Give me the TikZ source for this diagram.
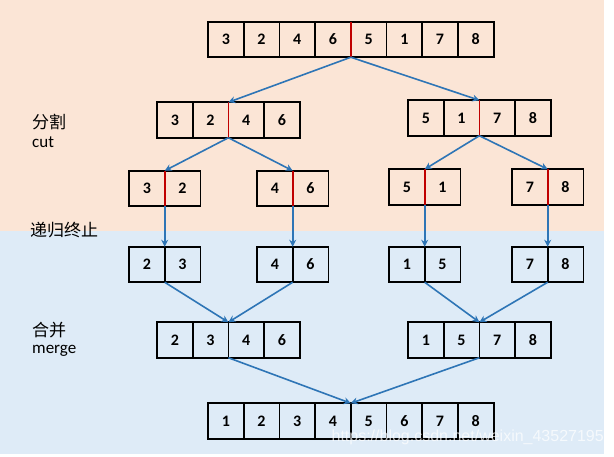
\documentclass[tikz,border=0pt]{standalone}
\usepackage{fontspec}
\setmainfont{Carlito}
\newfontfamily\cjk{Noto Sans CJK SC}
\newfontfamily\wmfont{Liberation Sans}
\usetikzlibrary{arrows.meta}

\definecolor{cutbg}{HTML}{FBE5D6}
\definecolor{mergebg}{HTML}{DEEBF7}
\definecolor{linkblue}{HTML}{2E75B6}
\definecolor{splitred}{HTML}{C00000}

\tikzset{
    cell/.style={draw, line width=1.8pt, minimum width=35.7pt, minimum height=35.5pt,
        inner sep=0pt, outer sep=0pt, anchor=west,
        font=\bfseries\fontsize{16}{16}\selectfont},
    link/.style={linkblue, line width=1.6pt, -{Stealth[length=7pt,width=7pt]}},
    splitline/.style={splitred, line width=1.8pt},
    steplabel/.style={anchor=west, inner sep=0pt, font=\fontsize{17}{17}\selectfont},
    watermark/.style={anchor=east, inner sep=0pt, white, opacity=0.7,
        font=\wmfont\fontsize{16}{16}\selectfont}
}

% one row of cells: name, left x, centre y, values
\newcommand{\cellrow}[4]{%
    \foreach \v [count=\i] in {#4}
        \node[cell] (#1-\i) at ({#2+(\i-1)*35.7}, #3) {\v};
}

\begin{document}
\begin{tikzpicture}[x=1pt, y=-1pt]
    \useasboundingbox (0,0) rectangle (614,457);
    % Backgrounds:
    \fill[cutbg] (0,0) rectangle (604,231);
    \fill[mergebg] (0,231) rectangle (604,454);

    % Cut part:
    \cellrow{top}{208}{39.5}{3,2,4,6,5,1,7,8}
    \cellrow{cl}{157}{120}{3,2,4,6}
    \cellrow{cr}{408}{118}{5,1,7,8}
    \cellrow{ca}{129}{188.5}{3,2}
    \cellrow{cb}{257}{188.5}{4,6}
    \cellrow{cc}{389}{187}{5,1}
    \cellrow{cd}{512}{187}{7,8}

    % Merge part:
    \cellrow{ma}{129}{264.5}{2,3}
    \cellrow{mb}{257}{264.5}{4,6}
    \cellrow{mc}{389}{264.5}{1,5}
    \cellrow{md}{512}{264.5}{7,8}
    \cellrow{ml}{157}{340}{2,3,4,6}
    \cellrow{mr}{408}{340}{1,5,7,8}
    \cellrow{bot}{208}{421}{1,2,3,4,5,6,7,8}

    % Red split lines:
    \foreach \n/\k in {top/4, cl/2, cr/2, ca/1, cb/1, cc/1, cd/1}
        \draw[splitline] (\n-\k.north east) -- (\n-\k.south east);

    % Arrows while cutting:
    \draw[link] (top-4.south east) -- (cl-2.north east);
    \draw[link] (top-4.south east) -- (cr-2.north east);
    \draw[link] (cl-2.south east) -- (ca-1.north east);
    \draw[link] (cl-2.south east) -- (cb-1.north east);
    \draw[link] (cr-2.south east) -- (cc-1.north east);
    \draw[link] (cr-2.south east) -- (cd-1.north east);

    % Recursion ends:
    \foreach \n/\m in {ca/ma, cb/mb, cc/mc, cd/md}
        \draw[link] (\n-1.south east) -- (\m-1.north east);

    % Arrows while merging:
    \draw[link] (ma-1.south east) -- (ml-2.north east);
    \draw[link] (mb-1.south east) -- (ml-2.north east);
    \draw[link] (mc-1.south east) -- (mr-2.north east);
    \draw[link] (md-1.south east) -- (mr-2.north east);
    \draw[link] (ml-2.south east) -- (bot-4.north east);
    \draw[link] (mr-2.south east) -- (bot-4.north east);

    % Labels:
    \node[steplabel] (cutzh) at (32,122) {\cjk 分割};
    \node[steplabel] (cuten) at (32,142) {cut};
    \node[steplabel] (endzh) at (30,230) {\cjk 递归终止};
    \node[steplabel] (mergezh) at (32,330) {\cjk 合并};
    \node[steplabel] (mergeen) at (32,351) {merge};

    \node[watermark] (wm) at (604,437) {https://blog.csdn.net/weixin\_43527195};
\end{tikzpicture}
\end{document}
